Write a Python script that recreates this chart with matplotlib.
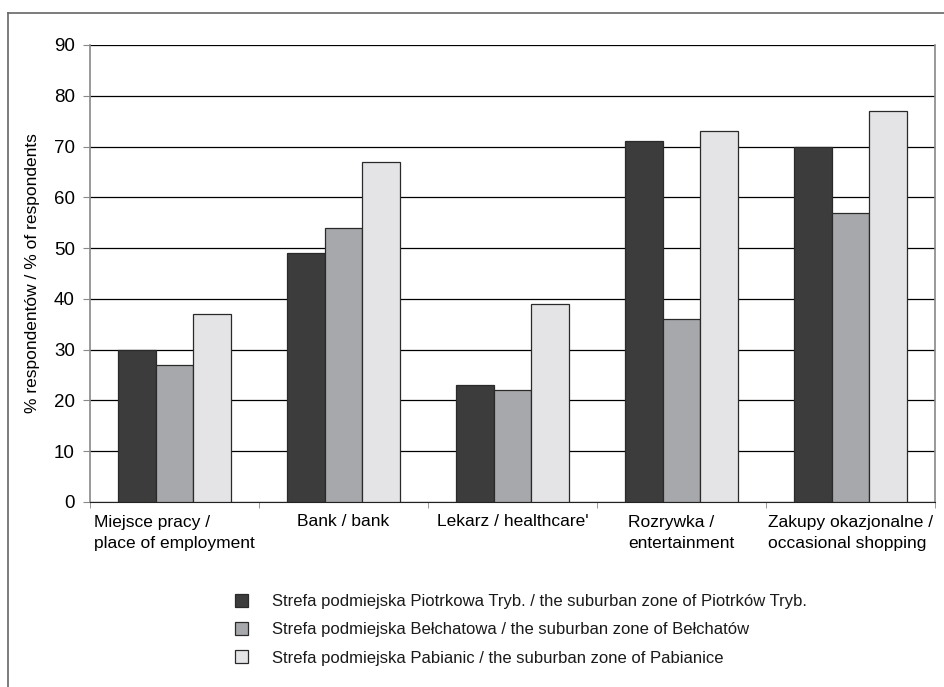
import numpy as np
import matplotlib
matplotlib.use("Agg")
import matplotlib.pyplot as plt
from matplotlib.patches import Patch
from matplotlib.lines import Line2D

plt.rcParams['font.family'] = ['Liberation Sans', 'DejaVu Sans']
plt.rcParams['text.color'] = '#1a1a1a'

categories = ["Miejsce pracy /\nplace of employment", "Bank / bank", "Lekarz / healthcare'",
              "Rozrywka /\nentertainment", "Zakupy okazjonalne /\noccasional shopping"]
piotrkow = [30, 49, 23, 71, 70]
belchatow = [27, 54, 22, 36, 57]
pabianice = [37, 67, 39, 73, 77]
series_labels = [
    "Strefa podmiejska Piotrkowa Tryb. / the suburban zone of Piotrków Tryb.",
    "Strefa podmiejska Bełchatowa / the suburban zone of Bełchatów",
    "Strefa podmiejska Pabianic / the suburban zone of Pabianice",
]
colors = ["#3c3c3c", "#a7a8ab", "#e4e4e6"]

W, H = 945, 687
fig = plt.figure(figsize=(9.45, 6.87), dpi=100)
ax = fig.add_axes([90 / W, 1 - 502 / H, 845 / W, 457 / H])

x = np.arange(len(categories))
bw = 0.222
for i, vals in enumerate([piotrkow, belchatow, pabianice]):
    ax.bar(x + (i - 1) * bw, vals, bw, color=colors[i], edgecolor="#2a2a2a",
           linewidth=0.9, zorder=3, label=series_labels[i])

ax.set_xlim(-0.5, len(categories) - 0.5)
ax.set_ylim(0, 90)
ax.set_yticks(range(0, 91, 10))
ax.yaxis.grid(True, color="black", linewidth=0.9, zorder=0)
ax.set_axisbelow(True)

ax.set_xticks(x)
ax.set_xticklabels(categories, fontsize=12.5, multialignment="left", linespacing=1.55)
ax.tick_params(axis="x", length=0, pad=9)
ax.set_xticks(np.arange(-0.5, len(categories)), minor=True)
ax.tick_params(axis="x", which="minor", length=4, color="#888888")
ax.tick_params(axis="y", labelsize=13.5, length=5, color="#888888", pad=6)

for s in ["left", "right"]:
    ax.spines[s].set_color("#888888")
    ax.spines[s].set_linewidth(1.2)
ax.spines["top"].set_visible(False)
ax.spines["bottom"].set_color("#222222")

ax.set_ylabel("% respondentów / % of respondents", fontsize=12.5, labelpad=10)

handles = [Patch(facecolor=c, edgecolor="#2a2a2a", linewidth=0.9) for c in colors]
fig.legend(handles, series_labels, loc="upper left", bbox_to_anchor=(220 / W, 1 - 579 / H),
           frameon=False, fontsize=12, handlelength=0.8, handleheight=0.8,
           handletextpad=1.4, labelspacing=0.78)

# figure frame (left and top edges)
fig.add_artist(Line2D([8 / W, 8 / W], [0, 1 - 13 / H], transform=fig.transFigure,
                      color="#666666", linewidth=1.2))
fig.add_artist(Line2D([8 / W, 1], [1 - 13 / H, 1 - 13 / H], transform=fig.transFigure,
                      color="#666666", linewidth=1.2))

fig.savefig("out.png", dpi=100)
